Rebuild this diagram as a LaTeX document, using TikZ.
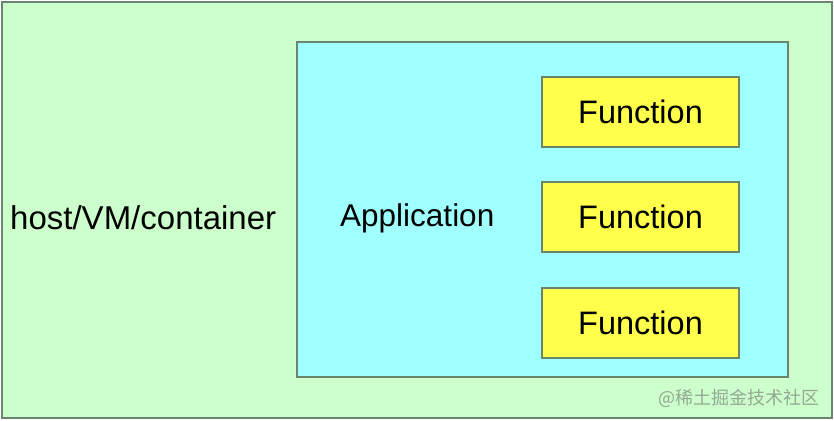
\documentclass[tikz,border=0pt]{standalone}
\usepackage{fontspec}
\setmainfont{Liberation Sans}
\newfontfamily\cjk{Noto Sans CJK SC}
\definecolor{hostgreen}{HTML}{CCFFCC}
\definecolor{appcyan}{HTML}{A0FFFF}
\definecolor{funcyellow}{HTML}{FFFF4C}
\definecolor{edgegrey}{HTML}{6A8470}
\definecolor{wmgrey}{HTML}{94A894}
\begin{document}
\begin{tikzpicture}[x=1pt,y=-1pt,
  boxstyle/.style={draw=edgegrey, line width=2pt},
  labelstyle/.style={font=\fontsize{33}{39}\selectfont, text=black, inner sep=0pt},
  funcbox/.style={boxstyle, fill=funcyellow, minimum width=197pt, minimum height=70pt, inner sep=0pt, font=\fontsize{32.5}{38}\selectfont}]
\useasboundingbox (0,0) rectangle (834,420);
\draw[boxstyle, fill=hostgreen] (2,2) rectangle (832,418);
\draw[boxstyle, fill=appcyan] (297,42) rectangle (788,377);
\node[funcbox] (f1) at (640.5,111.5) {Function};
\node[funcbox] (f2) at (640.5,217) {Function};
\node[funcbox] (f3) at (640.5,323) {Function};
\node[labelstyle, anchor=west] (host) at (10,218) {host/VM/container};
\node[labelstyle, anchor=west, font=\fontsize{31.5}{38}\selectfont] (app) at (340,218) {Application};
\node[inner sep=0pt, anchor=east, text=wmgrey, font=\cjk\fontsize{18}{21}\selectfont] (wm) at (820,398) {@稀土掘金技术社区};
\end{tikzpicture}
\end{document}
